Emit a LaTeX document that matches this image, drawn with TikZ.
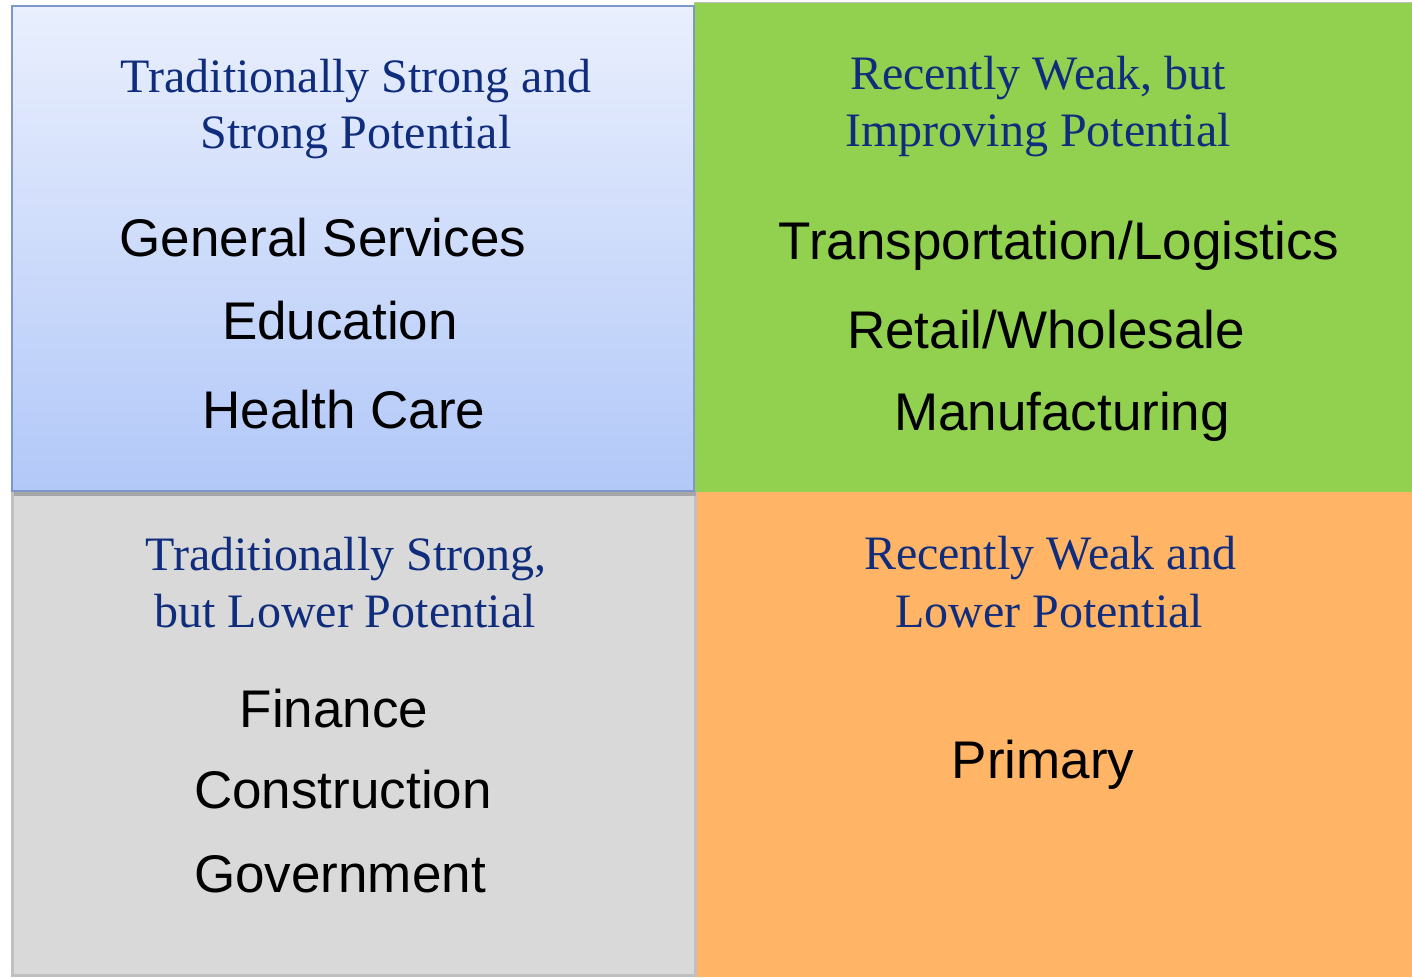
\documentclass[tikz,border=0pt]{standalone}
\usepackage{fontspec}
\setmainfont{Liberation Serif}
\newfontfamily\sectorfont{Liberation Sans}
\definecolor{titleblue}{HTML}{0F2D7C}
\definecolor{bluetop}{HTML}{E9EFFD}
\definecolor{bluebottom}{HTML}{B2C8F8}
\definecolor{blueedge}{HTML}{7E97C8}
\definecolor{greenbox}{HTML}{92D050}
\definecolor{greybox}{HTML}{D9D9D9}
\definecolor{greyedge}{HTML}{BFBFBF}
\definecolor{orangebox}{HTML}{FFB466}
\tikzset{
  heading/.style={anchor=base, inner sep=0pt, text=titleblue,
    font=\fontsize{48}{56}\selectfont},
  sector/.style={anchor=base, inner sep=0pt, text=black,
    font=\sectorfont\fontsize{53}{62}\selectfont},
}
\begin{document}
\begin{tikzpicture}[x=1pt,y=-1pt]
      \useasboundingbox (0,0) rectangle (1412,977);
      % the four fields
      \filldraw[fill=greybox, draw=greyedge, line width=3pt]
        (12,493.5) rectangle (695,975);
      \fill[orangebox] (697,492) rectangle (1412,977);
      \fill[greenbox] (694,3) rectangle (1412,492);
      \draw[greyedge, line width=1pt] (694,2.5) -- (1412,2.5);
      \fill[black!35] (14,490) rectangle (696,496);
      \shade[top color=bluetop, bottom color=bluebottom, draw=blueedge,
        line width=2pt] (12,6) rectangle (694,491);
      % top left
      \node[heading] (tl1) at (356,92) {Traditionally Strong and};
      \node[heading] (tl2) at (356,148) {Strong Potential};
      \node[sector] (gen) at (323,256) {General Services};
      \node[sector] (edu) at (340,339) {Education};
      \node[sector] (hea) at (344,428) {Health Care};
      % top right
      \node[heading] (tr1) at (1038,89) {Recently Weak, but};
      \node[heading] (tr2) at (1038,146) {Improving Potential};
      \node[sector] (tra) at (1059,259) {Transportation/Logistics};
      \node[sector] (ret) at (1046,348) {Retail/Wholesale};
      \node[sector] (man) at (1062,430) {Manufacturing};
      % bottom left
      \node[heading] (bl1) at (346,570) {Traditionally Strong,};
      \node[heading] (bl2) at (345,627) {but Lower Potential};
      \node[sector] (fin) at (334,727) {Finance};
      \node[sector] (con) at (343,808) {Construction};
      \node[sector] (gov) at (340,892) {Government};
      % bottom right
      \node[heading] (br1) at (1050,569) {Recently Weak and};
      \node[heading] (br2) at (1049,627) {Lower Potential};
      \node[sector] (pri) at (1043,778) {Primary};
    \end{tikzpicture}
\end{document}
